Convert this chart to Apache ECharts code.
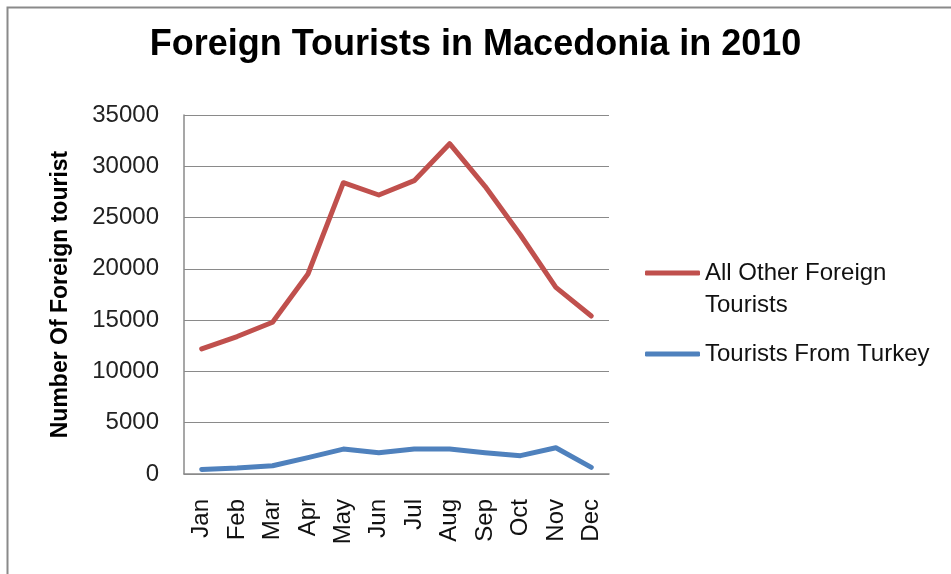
<!DOCTYPE html>
<html>
<head>
<meta charset="utf-8">
<script src="https://cdn.jsdelivr.net/npm/echarts@6/dist/echarts.min.js"></script>
<style>
html,body{margin:0;padding:0;background:#fff;}
#chart{width:951px;height:574px;}
</style>
</head>
<body>
<div id="chart"></div>
<script>
const months = ['Jan','Feb','Mar','Apr','May','Jun','Jul','Aug','Sep','Oct','Nov','Dec'];
const otherTourists = [12200, 13400, 14800, 19500, 28400, 27200, 28600, 32200, 28050, 23300, 18200, 15400];
const turkeyTourists = [450, 580, 810, 1600, 2430, 2080, 2430, 2430, 2080, 1790, 2560, 650];
const seriesNames = ['All Other Foreign Tourists', 'Tourists From Turkey'];
const yTicks = {min: 0, max: 35000, interval: 5000};

const FONT = '"Liberation Sans", Arial, sans-serif';
const chart = echarts.init(document.getElementById('chart'));
chart.setOption({
  backgroundColor: '#fff',
  animation: false,
  title: {
    text: 'Foreign Tourists in Macedonia in 2010',
    left: 'center',
    top: 22,
    textStyle: {fontFamily: FONT, fontSize: 36, fontWeight: 'bold', color: '#000'}
  },
  graphic: [{
    type: 'rect',
    shape: {x: 7.5, y: 7.5, width: 970, height: 620},
    style: {fill: 'none', stroke: '#8a8a8a', lineWidth: 2},
    silent: true
  }],
  legend: [{
    orient: 'vertical',
    left: 645,
    top: 225,
    padding: 0,
    icon: 'roundRect',
    itemWidth: 55,
    itemHeight: 5,
    itemGap: 5,
    data: [seriesNames[0]],
    formatter: function () { return '\nAll Other Foreign\nTourists'; },
    textStyle: {fontFamily: FONT, fontSize: 24, lineHeight: 32, color: '#111'}
  }, {
    orient: 'vertical',
    left: 645,
    top: 338,
    padding: 0,
    icon: 'roundRect',
    itemWidth: 55,
    itemHeight: 5,
    data: [seriesNames[1]],
    textStyle: {fontFamily: FONT, fontSize: 24, lineHeight: 32, color: '#111'}
  }],
  grid: {left: 184, top: 115, width: 425, height: 359, containLabel: false},
  xAxis: {
    type: 'category',
    data: months,
    boundaryGap: true,
    axisLine: {show: true, lineStyle: {color: '#8a8a8a', width: 1.5}},
    axisTick: {show: false},
    axisLabel: {rotate: 90, margin: 25, fontFamily: FONT, fontSize: 24, color: '#111', interval: 0}
  },
  yAxis: {
    type: 'value',
    min: yTicks.min,
    max: yTicks.max,
    interval: yTicks.interval,
    name: 'Number Of Foreign tourist',
    nameLocation: 'middle',
    nameGap: 112,
    nameTextStyle: {fontFamily: FONT, fontSize: 23, fontWeight: 'bold', color: '#000'},
    axisLine: {show: true, lineStyle: {color: '#8a8a8a', width: 1.5}},
    axisTick: {show: false},
    axisLabel: {margin: 25, fontFamily: FONT, fontSize: 24, color: '#222', formatter: function (v) { return String(v); }},
    splitLine: {show: true, lineStyle: {color: '#8a8a8a', width: 1.2}}
  },
  series: [{
    name: seriesNames[0],
    type: 'line',
    data: otherTourists,
    symbol: 'none',
    color: '#C0504D',
    lineStyle: {width: 5, color: '#C0504D', cap: 'round', join: 'round'}
  }, {
    name: seriesNames[1],
    type: 'line',
    data: turkeyTourists,
    symbol: 'none',
    color: '#4F81BD',
    lineStyle: {width: 5, color: '#4F81BD', cap: 'round', join: 'round'}
  }]
});
</script>
</body>
</html>
